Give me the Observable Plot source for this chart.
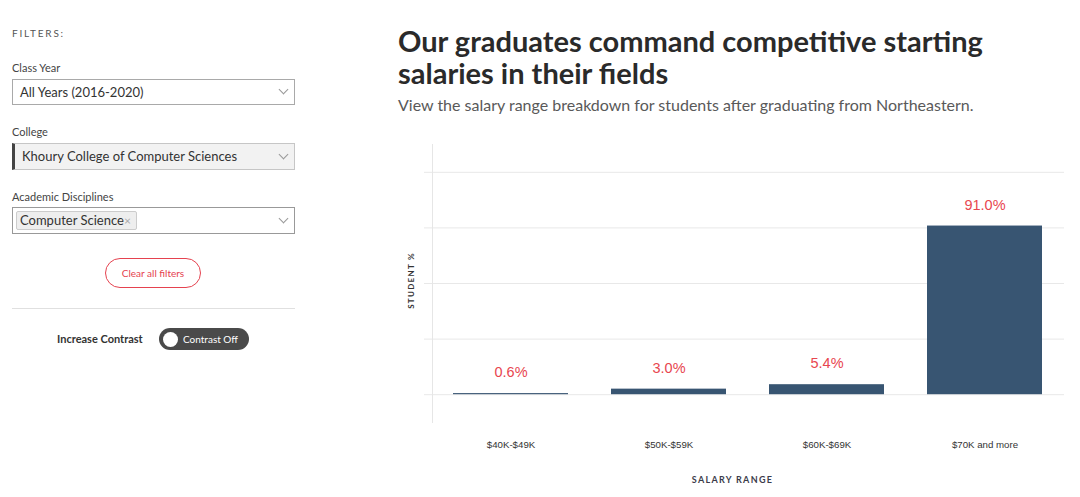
<!DOCTYPE html>
<html>
<head>
<meta charset="utf-8">
<script src="https://cdn.jsdelivr.net/npm/d3@7"></script>
<script src="https://cdn.jsdelivr.net/npm/@observablehq/plot@0.6"></script>
<style>
  html, body { margin: 0; padding: 0; background: #fff; }
  body { width: 1080px; height: 497px; position: relative; overflow: hidden; font-family: Lato, "Open Sans", sans-serif; }
  .abs { position: absolute; white-space: nowrap; }
  .lbl { font-size: 11px; color: #444; line-height: 14px; }
  .box { position: absolute; box-sizing: border-box; border: 1px solid #a9a9a9; background: #fff; }
  .boxtxt { position: absolute; font-size: 13px; color: #333; line-height: 16px; white-space: nowrap; }
  .chev { position: absolute; width: 6px; height: 6px; border-right: 1.5px solid #999; border-bottom: 1.5px solid #999; transform: rotate(45deg); }
  #title { left: 398px; top: 25px; font-size: 29px; font-weight: 700; line-height: 32px; color: #2a2a2a; }
  #subtitle { left: 398px; top: 95px; font-size: 16px; line-height: 20px; color: #595959; }
  #chart { position: absolute; left: 390px; top: 130px; }
  #chart svg text.axis-title { letter-spacing: 1.3px; }
</style>
</head>
<body>
<!-- Left filter panel -->
<div class="abs" style="left:12px;top:26px;font-size:10px;line-height:14px;letter-spacing:1.8px;color:#555;">FILTERS:</div>

<div class="abs lbl" style="left:12px;top:61px;">Class Year</div>
<div class="box" style="left:12px;top:79px;width:283px;height:26px;"></div>
<div class="boxtxt" style="left:20px;top:84px;">All Years (2016-2020)</div>
<div class="chev" style="left:280px;top:86px;"></div>

<div class="abs lbl" style="left:12px;top:125px;">College</div>
<div class="box" style="left:12px;top:143px;width:283px;height:27px;background:#f2f2f2;border-color:#c6c6c6;border-left:3px solid #444;"></div>
<div class="boxtxt" style="left:22px;top:148px;">Khoury College of Computer Sciences</div>
<div class="chev" style="left:280px;top:151px;"></div>

<div class="abs lbl" style="left:12px;top:190px;">Academic Disciplines</div>
<div class="box" style="left:12px;top:207px;width:283px;height:27px;border-color:#999;"></div>
<div class="box" style="left:16px;top:211px;width:121px;height:19px;background:#eee;border-color:#ccc;border-radius:2px;"></div>
<div class="boxtxt" style="left:20px;top:212px;">Computer Science</div>
<div class="abs" style="left:124px;top:213px;font-size:12px;line-height:16px;color:#aaa;">×</div>
<div class="chev" style="left:280px;top:215px;"></div>

<div class="box" style="left:105px;top:258px;width:96px;height:30px;border-color:#e5424f;border-radius:15px;"></div>
<div class="abs" style="left:105px;top:266px;width:96px;text-align:center;font-size:10px;line-height:14px;color:#e5424f;">Clear all filters</div>

<div class="abs" style="left:12px;top:308px;width:283px;height:1px;background:#e0e0e0;"></div>

<div class="abs" style="left:57px;top:332px;font-size:11px;line-height:14px;font-weight:700;color:#333;">Increase Contrast</div>
<div class="abs" style="left:159px;top:328px;width:90px;height:22px;border-radius:11px;background:#4a4a4a;"></div>
<div class="abs" style="left:163px;top:331.5px;width:15px;height:15px;border-radius:50%;background:#fff;"></div>
<div class="abs" style="left:183px;top:332px;font-size:10px;line-height:14px;color:#fff;">Contrast Off</div>

<!-- Title block -->
<div id="title" class="abs">Our graduates command competitive starting<br>salaries in their fields</div>
<div id="subtitle" class="abs">View the salary range breakdown for students after graduating from Northeastern.</div>

<div id="chart"></div>

<script>
// ---- Data ----
const categories = ["$40K-$49K", "$50K-$59K", "$60K-$69K", "$70K and more"];
const values = [0.6, 3.0, 5.4, 91.0];
const yTicks = [0, 30, 60, 90, 120];
const xTitle = "SALARY RANGE";
const yTitle = "STUDENT %";

const data = categories.map((c, i) => ({category: c, value: values[i], label: values[i].toFixed(1) + "%"}));

const chart = Plot.plot({
  width: 690,
  height: 367,
  marginLeft: 42,
  marginRight: 16,
  marginTop: 14,
  marginBottom: 75,
  style: {fontFamily: "'Liberation Sans', Arial, sans-serif", background: "transparent", overflow: "visible"},
  x: {domain: categories, paddingInner: 0.27, paddingOuter: 0.135, label: null, axis: null},
  y: {domain: [-15, 135], label: null, axis: null},
  marks: [
    Plot.gridY(yTicks, {stroke: "#e8e8e8", strokeOpacity: 1, insetLeft: -8}),
    Plot.frame({anchor: "left", stroke: "#e6e6e6"}),
    Plot.barY(data, {x: "category", y: "value", fill: "#385572"}),
    Plot.text(data, {x: "category", y: "value", text: "label", dy: -21, fill: "#e8464f", fontSize: 14.5}),
    Plot.axisX({tickSize: 0, tickPadding: 22, lineAnchor: "middle", fontSize: 9.7, fill: "#333"}),
    Plot.text([xTitle], {frameAnchor: "bottom", text: d => d, dy: 57.3, dx: -16, lineAnchor: "middle", textAnchor: "middle",
      fontSize: 9, fontWeight: 700, fontFamily: "Lato, sans-serif", fill: "#3c3c4a"}),
    Plot.text([yTitle], {frameAnchor: "left", text: d => d, rotate: -90, dx: -21, dy: -3, lineAnchor: "middle", textAnchor: "middle",
      fontSize: 8, fontWeight: 700, fontFamily: "Lato, sans-serif", fill: "#333"})
  ]
});
document.getElementById("chart").appendChild(chart);
// add letter-spacing class to the two axis titles
d3.select(chart).selectAll("text").filter(function() {
  return this.textContent === xTitle || this.textContent === yTitle;
}).classed("axis-title", true);
</script>
</body>
</html>
